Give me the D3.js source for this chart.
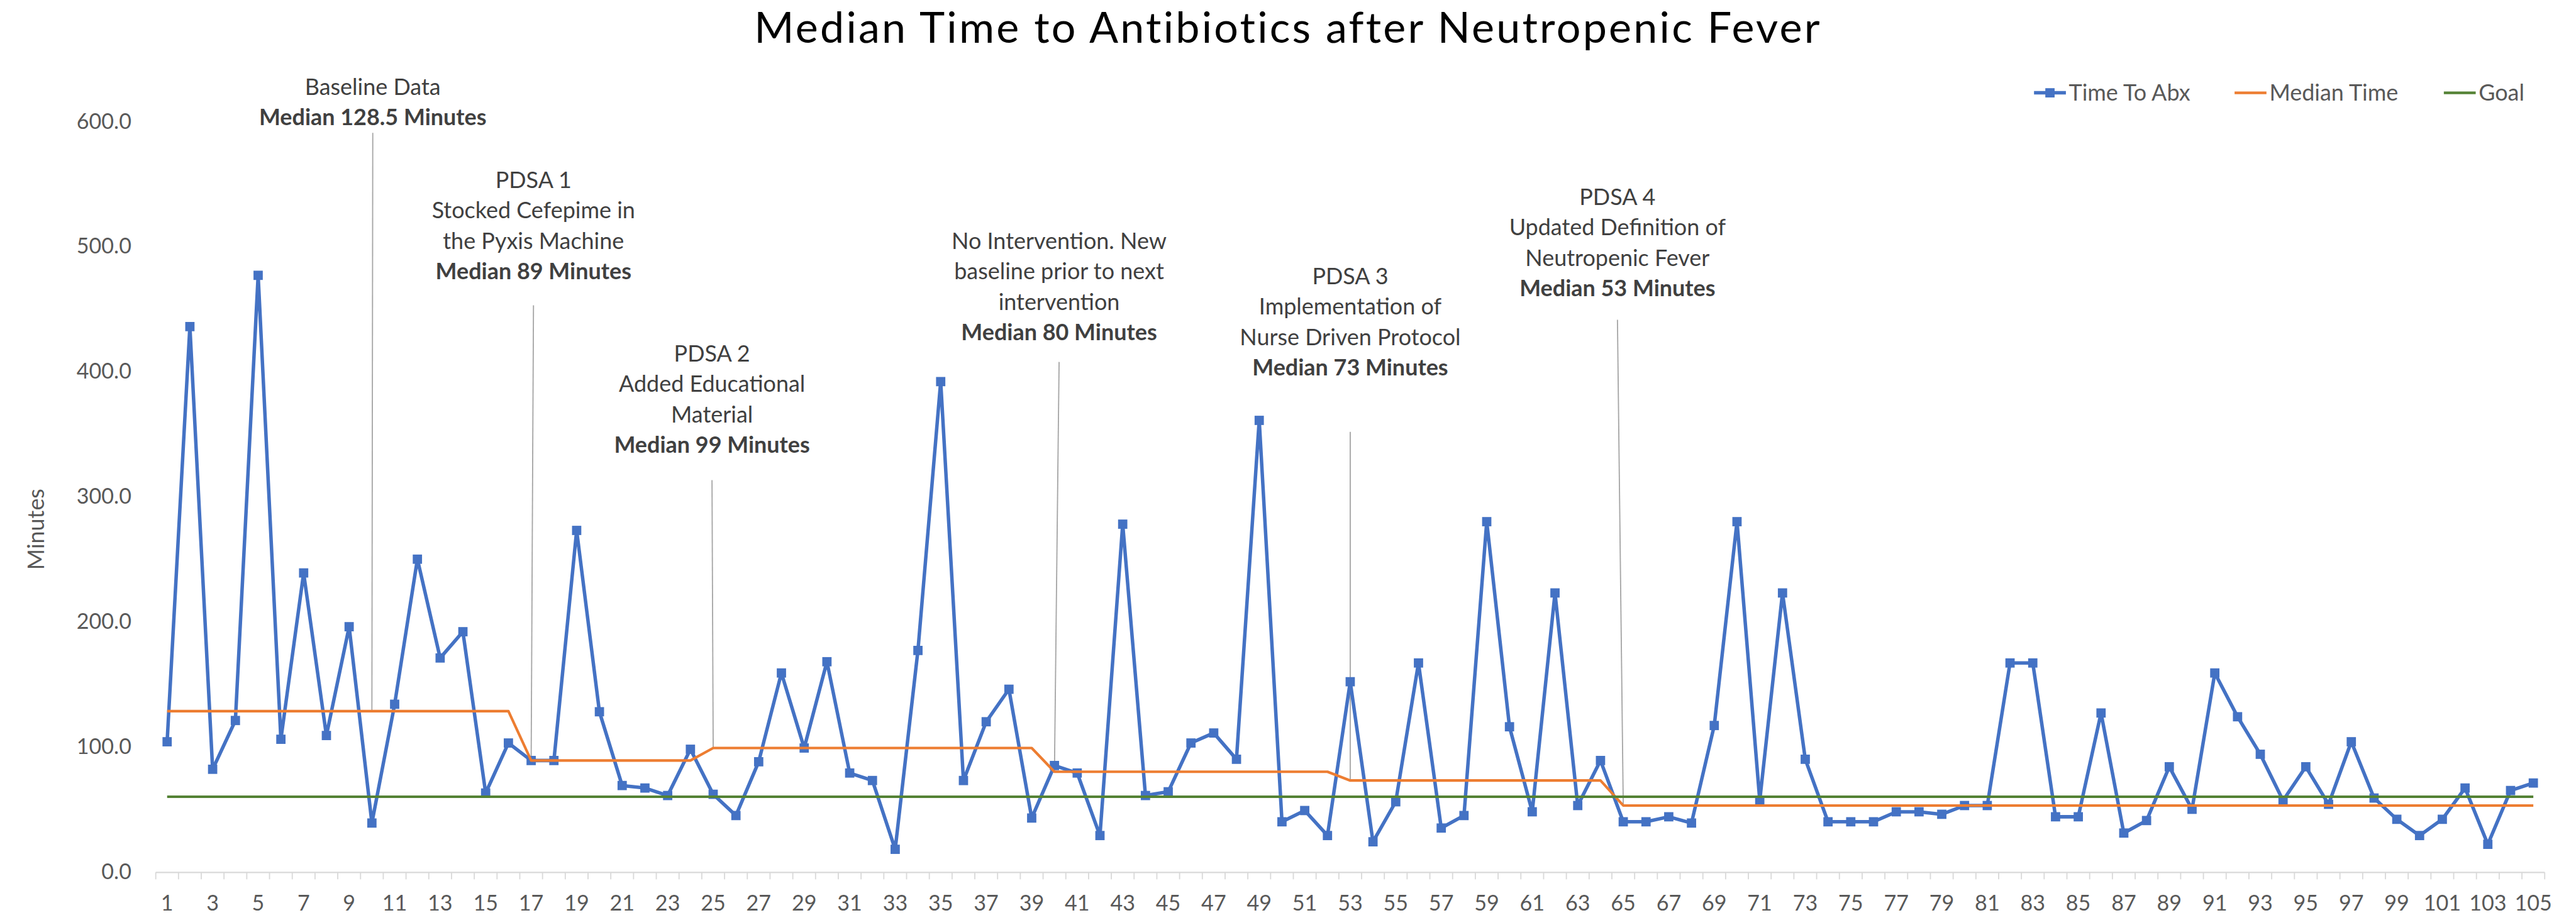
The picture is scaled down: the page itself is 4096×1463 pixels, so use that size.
<!DOCTYPE html>
<html>
<head>
<meta charset="utf-8">
<script src="https://cdn.jsdelivr.net/npm/d3@7"></script>
<style>
  html, body { margin: 0; padding: 0; background: #fff; }
  svg { display: block; }
</style>
</head>
<body>
<div id="chart"></div>
<script>
// values
const categories = d3.range(1, 106);
const timeToAbx = [
  104, 436, 82, 121, 477, 106, 239, 109, 196, 39,
  134, 250, 171, 192, 63, 103, 89, 89, 273, 128,
  69, 67, 61, 98, 62, 45, 88, 159, 99, 168,
  79, 73, 18, 177, 392, 73, 120, 146, 43, 85,
  79, 29, 278, 61, 64, 103, 111, 90, 361, 40,
  49, 29, 152, 24, 56, 167, 35, 45, 280, 116,
  48, 223, 53, 89, 40, 40, 44, 39, 117, 280,
  57, 223, 90, 40, 40, 40, 48, 48, 46, 53,
  53, 167, 167, 44, 44, 127, 31, 41, 84, 50,
  159, 124, 94, 57, 84, 54, 104, 59, 42, 29,
  42, 67, 22, 65, 71
];
// median time changes at the start of each phase
const phaseStart = [1, 17, 25, 40, 53, 65];
const phaseMedian = [128.5, 89, 99, 80, 73, 53];
const goal = 60;
const yTicks = [0, 100, 200, 300, 400, 500, 600];
const xTickLabels = categories.filter(d => d % 2 === 1);
const seriesNames = ["Time To Abx", "Median Time", "Goal"];

const notes = [
  {cat: 10, dx: 1.5, top: 627.6, leaderTop: 591, lines: ["Baseline Data"], bold: "Median 128.5 Minutes"},
  {cat: 17, dx: 4, top: 553.2, leaderTop: 453, lines: ["PDSA 1", "Stocked Cefepime in", "the Pyxis Machine"], bold: "Median 89 Minutes"},
  {cat: 25, dx: -2, top: 414.3, leaderTop: 313.2, lines: ["PDSA 2", "Added Educational", "Material"], bold: "Median 99 Minutes"},
  {cat: 40, dx: 8, top: 504.4, leaderTop: 407.7, lines: ["No Intervention. New", "baseline prior to next", "intervention"], bold: "Median 80 Minutes"},
  {cat: 53, dx: 0, top: 476.2, leaderTop: 351.8, lines: ["PDSA 3", "Implementation of", "Nurse Driven Protocol"], bold: "Median 73 Minutes"},
  {cat: 65, dx: -10, top: 539.5, leaderTop: 441.5, lines: ["PDSA 4", "Updated Definition of", "Neutropenic Fever"], bold: "Median 53 Minutes"}
];

// reference is 4444 x 1587, drawn into 4096 x 1463
const W = 4444, H = 1587;
const font = "Lato, 'Open Sans', sans-serif";
const blue = "#4472C4", orange = "#ED7D31", green = "#548235";

const svg = d3.select("#chart")
    .append("svg")
    .attr("width", 4096)
    .attr("height", 1463)
    .attr("viewBox", `0 0 ${W} ${H}`)
    .style("font-family", font);

svg.append("rect").attr("width", W).attr("height", H).attr("fill", "#fff");

const x = d3.scaleBand()
    .domain(categories)
    .range([268.7, 4390])
    .padding(0);

const y = d3.scaleLinear()
    .domain([0, 600])
    .range([1504, 209.5]);

const cx = d => x(d) + x.bandwidth() / 2;

const medianOf = c => phaseMedian[d3.bisectRight(phaseStart, c) - 1];

// title
svg.append("text")
    .attr("x", W / 2)
    .attr("y", 74)
    .attr("text-anchor", "middle")
    .attr("font-size", 74)
    .attr("letter-spacing", 3.5)
    .attr("fill", "#000")
    .text("Median Time to Antibiotics after Neutropenic Fever");

// y axis
const yAxis = svg.append("g")
    .attr("transform", `translate(${x.range()[0]},0)`)
    .call(d3.axisLeft(y).tickValues(yTicks).tickFormat(d3.format(".1f")).tickSize(0).tickPadding(42));
yAxis.select(".domain").remove();
yAxis.attr("font-family", font).attr("font-size", 37);
yAxis.selectAll("text").attr("fill", "#595959");

svg.append("text")
    .attr("transform", `translate(62,913) rotate(-90)`)
    .attr("text-anchor", "middle")
    .attr("dy", "0.35em")
    .attr("font-size", 39)
    .attr("fill", "#595959")
    .text("Minutes");

// x axis
const axisY = 1505;
svg.append("line")
    .attr("x1", x.range()[0]).attr("x2", x.range()[1])
    .attr("y1", axisY).attr("y2", axisY)
    .attr("stroke", "#d9d9d9").attr("stroke-width", 2.5);

svg.append("g").selectAll("line")
    .data(categories.concat([null]))
    .enter().append("line")
    .attr("x1", d => d === null ? x.range()[1] : x(d))
    .attr("x2", d => d === null ? x.range()[1] : x(d))
    .attr("y1", axisY).attr("y2", axisY + 12)
    .attr("stroke", "#d9d9d9").attr("stroke-width", 2);

const xAxis = svg.append("g")
    .attr("transform", `translate(0,${axisY})`)
    .call(d3.axisBottom(x).tickValues(xTickLabels).tickSize(0).tickPadding(40));
xAxis.select(".domain").remove();
xAxis.attr("font-family", font).attr("font-size", 37);
xAxis.selectAll("text").attr("fill", "#595959");

// annotation leader lines and text
const noteG = svg.append("g");
notes.forEach(n => {
    noteG.append("line")
        .attr("x1", cx(n.cat) + n.dx).attr("y1", y(n.leaderTop))
        .attr("x2", cx(n.cat)).attr("y2", y(medianOf(n.cat)))
        .attr("stroke", "#a6a6a6").attr("stroke-width", 2);
    const t = noteG.append("text")
        .attr("x", cx(n.cat) + n.dx)
        .attr("y", y(n.top))
        .attr("text-anchor", "middle")
        .attr("font-size", 39)
        .attr("fill", "#404040");
    n.lines.concat([n.bold]).forEach((s, i) => {
        t.append("tspan")
            .attr("x", cx(n.cat) + n.dx)
            .attr("y", y(n.top) + i * 52.5)
            .attr("dy", "0.35em")
            .attr("font-weight", s === n.bold ? "bold" : null)
            .text(s);
    });
});

// series
const line = d3.line().x(d => cx(d[0])).y(d => y(d[1]));

svg.append("path")
    .datum(categories.map((c, i) => [c, timeToAbx[i]]))
    .attr("fill", "none")
    .attr("stroke", blue)
    .attr("stroke-width", 6)
    .attr("stroke-linejoin", "round")
    .attr("d", line);

svg.append("g").selectAll("rect")
    .data(categories)
    .enter().append("rect")
    .attr("x", (d, i) => cx(d) - 8)
    .attr("y", (d, i) => y(timeToAbx[i]) - 8)
    .attr("width", 16)
    .attr("height", 16)
    .attr("fill", blue);

svg.append("path")
    .datum(categories.map(c => [c, medianOf(c)]))
    .attr("fill", "none")
    .attr("stroke", orange)
    .attr("stroke-width", 4.5)
    .attr("stroke-linejoin", "round")
    .attr("d", line);

svg.append("path")
    .datum(categories.map(c => [c, goal]))
    .attr("fill", "none")
    .attr("stroke", green)
    .attr("stroke-width", 4.5)
    .attr("d", line);

// legend
const legendX = [3509, 3855, 4216];
const legend = svg.append("g");
seriesNames.forEach((name, i) => {
    const col = [blue, orange, green][i];
    legend.append("line")
        .attr("x1", legendX[i]).attr("x2", legendX[i] + 55)
        .attr("y1", 160).attr("y2", 160)
        .attr("stroke", col).attr("stroke-width", i === 0 ? 6 : 4.5);
    if (i === 0) {
        legend.append("rect")
            .attr("x", legendX[i] + 19.5).attr("y", 152)
            .attr("width", 16).attr("height", 16)
            .attr("fill", col);
    }
    legend.append("text")
        .attr("x", legendX[i] + 60)
        .attr("y", 160)
        .attr("dy", "0.35em")
        .attr("font-size", 39)
        .attr("fill", "#595959")
        .text(name);
});
</script>
</body>
</html>
